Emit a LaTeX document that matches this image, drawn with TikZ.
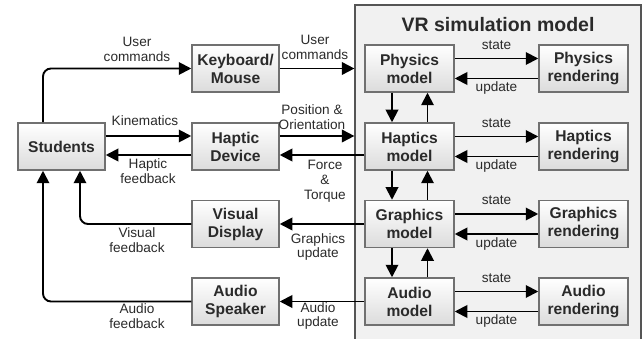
\documentclass[tikz,border=0pt]{standalone}
\usepackage{fontspec}
\setmainfont{Liberation Sans}
\usetikzlibrary{arrows.meta,positioning,calc}
\definecolor{boxline}{HTML}{707070}
\definecolor{txt}{HTML}{2A2A2A}
\definecolor{vrfill}{HTML}{F1F1F1}
\definecolor{vrline}{HTML}{555555}
\tikzset{
  blk/.style={draw=boxline, line width=1.5pt, top color=white, bottom color=black!14,
    minimum width=87pt, minimum height=47pt, inner sep=0pt, align=center,
    text=txt, font=\fontsize{15.6}{18}\selectfont\bfseries},
  wblk/.style={blk, minimum width=89pt},
  lbl/.style={text=txt, align=center, inner sep=0pt, font=\fontsize{13.6}{14.8}\selectfont},
  arr/.style={line width=1.9pt, -{Triangle[length=12.5pt,width=12.5pt]}},
  ln/.style={line width=1.9pt}
}
\begin{document}
\begin{tikzpicture}[x=1pt,y=-1pt]
\useasboundingbox (0,0) rectangle (642,339);
\clip (0,0) rectangle (642,339);
% VR box
\node[draw=vrline, fill=vrfill, line width=1.2pt, minimum width=286pt, minimum height=345pt, inner sep=0pt] (VR) at (498,177.5) {};
\node[text=txt, font=\fontsize{19.5}{22}\selectfont\bfseries, inner sep=0pt] (title) at (498,25) {VR simulation model};
% left nodes
\node[blk] (Stu) at (61.5,146.5) {Students};
\node[blk] (Kbd) at (235.5,68.5) {Keyboard/\\Mouse};
\node[blk] (Hdev) at (235.5,146.5) {Haptic\\Device};
\node[blk] (Vis) at (235.5,224) {Visual\\Display};
\node[blk] (Spk) at (235.5,301.5) {Audio\\Speaker};
% models
\node[wblk] (Phm) at (409.5,68.5) {Physics\\model};
\node[wblk] (Ham) at (409.5,146.5) {Haptics\\model};
\node[wblk] (Grm) at (409.5,224) {Graphics\\model};
\node[wblk] (Aum) at (409.5,301.5) {Audio\\model};
% renderings
\node[wblk] (Phr) at (583.5,68.5) {Physics\\rendering};
\node[wblk] (Har) at (583.5,146.5) {Haptics\\rendering};
\node[wblk] (Grr) at (583.5,224) {Graphics\\rendering};
\node[wblk] (Aur) at (583.5,301.5) {Audio\\rendering};
% left connectors
\draw[arr, rounded corners=8pt] ([xshift=-18.5pt]Stu.north) |- (Kbd.west);
\draw[arr] (Kbd.east) -- (Kbd.east -| VR.west);
\draw[arr] ([yshift=10.5pt]Stu.east) -- ([yshift=10.5pt]Hdev.west);
\draw[arr] ([yshift=-8.5pt]Hdev.west) -- ([yshift=-8.5pt]Stu.east);
\draw[arr] ([yshift=10.5pt]Hdev.east) -- ([yshift=10.5pt]Hdev.east -| VR.west);
\draw[arr] ([yshift=-8.5pt]Ham.west) -- ([yshift=-8.5pt]Hdev.east);
\draw[arr] (Grm.west) -- (Vis.east);
\draw[arr] (Aum.west) -- (Spk.east);
\draw[arr, rounded corners=8pt] (Vis.west) -| ([xshift=18.5pt]Stu.south);
\draw[arr, rounded corners=8pt] (Spk.west) -| ([xshift=-18.5pt]Stu.south);
% vertical model arrows
\foreach \a/\b in {Phm/Ham, Ham/Grm, Grm/Aum}{
  \draw[arr] ([xshift=-17.5pt]\a.south) -- ([xshift=-17.5pt]\b.north);
  \draw[arr] ([xshift=18pt]\b.north) -- ([xshift=18pt]\a.south);
}
% state / update arrows
\foreach \m/\r in {Phm/Phr, Ham/Har, Grm/Grr, Aum/Aur}{
  \draw[arr] ([yshift=10pt]\m.east) -- ([yshift=10pt]\r.west);
  \draw[arr] ([yshift=-10pt]\r.west) -- ([yshift=-10pt]\m.east);
  \node[lbl] (s\m) at ([yshift=23.5pt]$(\m.center)!0.5!(\r.center)$) {state};
  \node[lbl] (u\m) at ([yshift=-19.5pt]$(\m.center)!0.5!(\r.center)$) {update};
}
% labels
\node[lbl] (l1) at (137,49.5) {User\\commands};
\node[lbl] (l2) at (315,47) {User\\commands};
\node[lbl] (l3) at (145,121) {Kinematics};
\node[lbl] (l4) at (148,171) {Haptic\\feedback};
\node[lbl] (l5) at (312,117) {Position \&\\Orientation};
\node[lbl] (l6) at (325,181) {Force\\\&\\Torque};
\node[lbl] (l7) at (137,240) {Visual\\feedback};
\node[lbl] (l8) at (318,247) {Graphics\\update};
\node[lbl] (l9) at (137,316) {Audio\\feedback};
\node[lbl] (l10) at (318,316) {Audio\\update};
\end{tikzpicture}
\end{document}
